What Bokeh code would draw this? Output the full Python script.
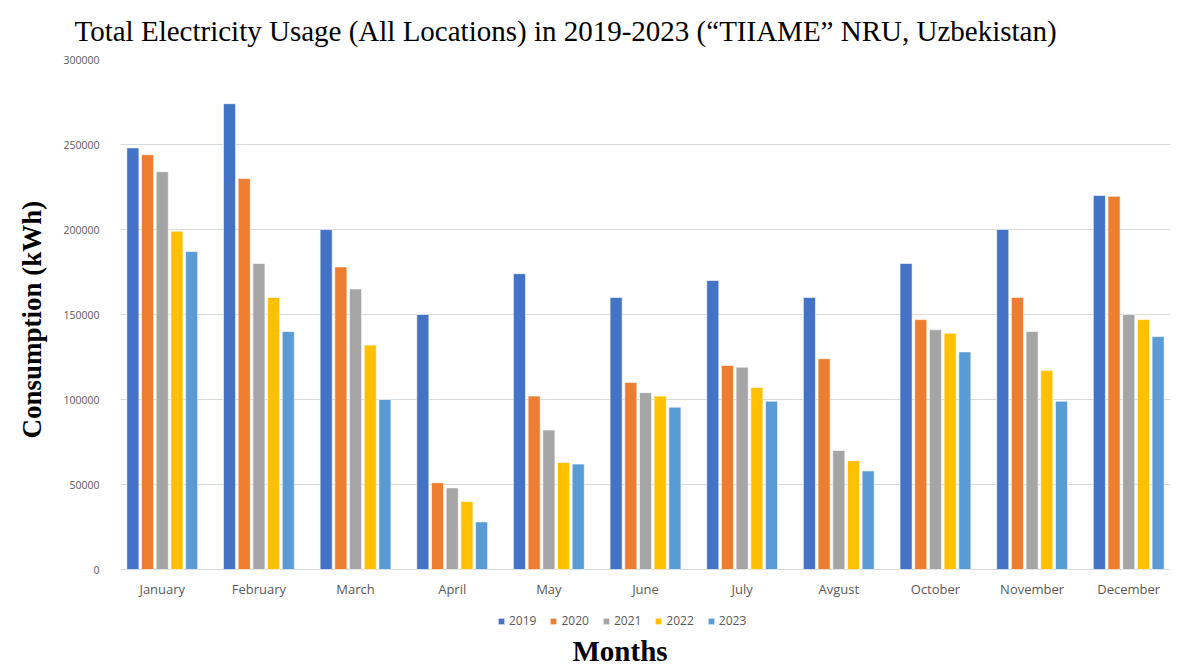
from bokeh.plotting import figure
from bokeh.models import (FactorRange, ColumnDataSource, Legend, LegendItem, Title,
                          NumeralTickFormatter, FixedTicker)
from bokeh.core.properties import value
from bokeh.transform import dodge
from bokeh.embed import file_html
from bokeh.resources import INLINE

months = ["January", "February", "March", "April", "May", "June", "July",
          "Avgust", "October", "November", "December"]
years = ["2019", "2020", "2021", "2022", "2023"]
v2019 = [248000, 274000, 200000, 150000, 174000, 160000, 170000, 160000, 180000, 200000, 220000]
v2020 = [244000, 230000, 178000, 51000, 102000, 110000, 120000, 124000, 147000, 160000, 219500]
v2021 = [234000, 180000, 165000, 48000, 82000, 104000, 119000, 70000, 141000, 140000, 150000]
v2022 = [199000, 160000, 132000, 40000, 63000, 102000, 107000, 64000, 139000, 117000, 147000]
v2023 = [187000, 140000, 100000, 28000, 62000, 95500, 99000, 58000, 128000, 99000, 137000]
colors = ["#4472C4", "#ED7D31", "#A5A5A5", "#FFC000", "#5B9BD5"]
y_ticks = [0, 50000, 100000, 150000, 200000, 250000, 300000]

src = ColumnDataSource(dict(month=months, zero=[0] * len(months), y2019=v2019, y2020=v2020,
                            y2021=v2021, y2022=v2022, y2023=v2023))

# the frame extends below zero so that it holds the month labels and the legend
p = figure(x_range=FactorRange(*months, range_padding=-0.068, range_padding_units="absolute"),
           y_range=(-35294, 300000),
           frame_width=1050, frame_height=570, output_backend="svg", toolbar_location=None,
           min_border_left=118, min_border_right=0, min_border_top=59, min_border_bottom=0)

offsets = [-0.304, -0.152, 0.0, 0.152, 0.304]
renderers = []
for yr, off, c in zip(years, offsets, colors):
    r = p.vbar(x=dodge("month", off, range=p.x_range), top="y" + yr, width=0.125,
               source=src, fill_color=c, line_color="white", line_width=0.6)
    renderers.append(r)

# month (category) labels under the zero line
p.text(x="month", y="zero", text="month", source=src, y_offset=19,
       text_align="center", text_baseline="middle", text_font=value("Open Sans"),
       text_font_size="13px", text_color="#595959")

p.title.text = "Total Electricity Usage (All Locations) in 2019-2023 (\u201cTIIAME\u201d NRU, Uzbekistan)"
p.title.text_font = "Liberation Serif"
p.title.text_font_size = "29px"
p.title.text_font_style = "normal"
p.title.text_color = "black"
p.title.align = "left"
p.title.offset = -46
p.title.standoff = 25

p.outline_line_color = None
p.xgrid.grid_line_color = None
p.ygrid.grid_line_color = "#d9d9d9"
p.ygrid.grid_line_width = 1
p.xaxis.visible = False

p.yaxis.ticker = FixedTicker(ticks=y_ticks)
p.yaxis.formatter = NumeralTickFormatter(format="0")
p.yaxis.axis_line_color = None
p.yaxis.major_tick_line_color = None
p.yaxis.minor_tick_line_color = None
p.yaxis.major_tick_out = 0
p.yaxis.major_tick_in = 0
p.yaxis.minor_tick_out = 0
p.yaxis.major_label_text_font = "Open Sans"
p.yaxis.major_label_text_font_size = "10.5px"
p.yaxis.major_label_text_color = "#595959"
p.yaxis.major_label_standoff = 21

ylab = Title(text="Consumption (kWh)", align="left", offset=191, text_font="Liberation Serif",
             text_font_size="27px", text_font_style="bold", text_color="black", standoff=28)
p.add_layout(ylab, "left")

legend = Legend(items=[LegendItem(label=yr, renderers=[r]) for yr, r in zip(years, renderers)],
                orientation="horizontal", location=(377, 0))
legend.label_text_font = "Open Sans"
legend.label_text_font_size = "12px"
legend.label_text_color = "#595959"
legend.glyph_width = 8
legend.glyph_height = 8
legend.label_standoff = 4
legend.spacing = 13
legend.padding = 4
legend.margin = 0
legend.border_line_color = None
legend.background_fill_alpha = 0
p.add_layout(legend, "center")

xt = Title(text="Months", align="left", offset=452, text_font="Liberation Serif",
           text_font_size="29px", text_font_style="bold", text_color="black", standoff=6)
p.add_layout(xt, "below")

open("out.html", "w").write(file_html(p, INLINE))
